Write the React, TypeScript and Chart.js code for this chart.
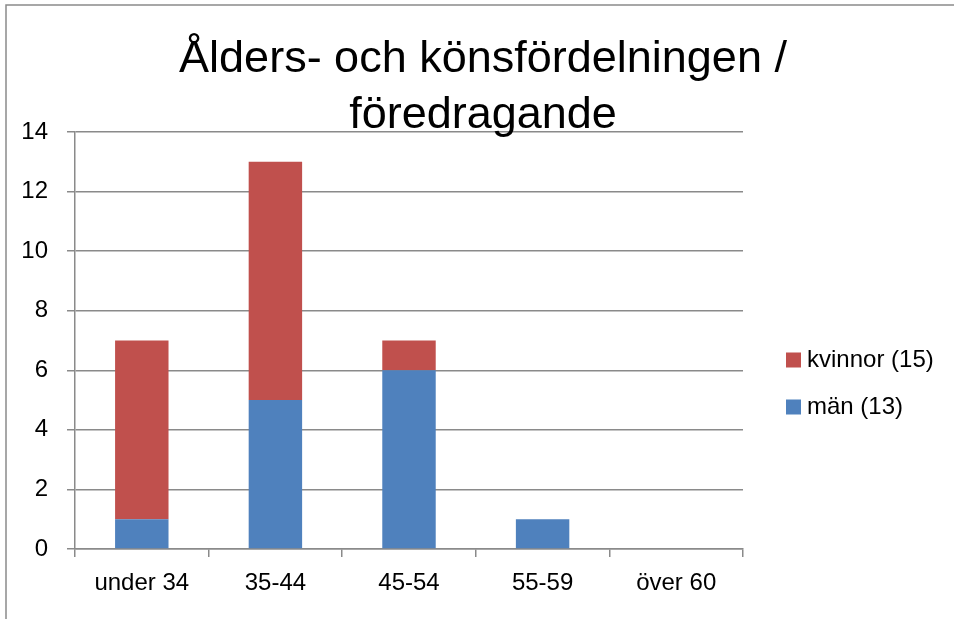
import React, { useEffect, useRef } from 'react';
import { Chart, registerables } from 'chart.js';
Chart.register(...registerables);

const categories = ['under 34', '35-44', '45-54', '55-59', 'över 60'];
const manValues = [1, 5, 6, 1, 0];
const kvinnorValues = [6, 8, 1, 0, 0];
const seriesLabels = ['män (13)', 'kvinnor (15)'];
const seriesColors = ['#4F81BD', '#C0504D'];
const titleLines = ['Ålders- och könsfördelningen /', 'föredragande'];
const yMin = 0;
const yMax = 14;
const yStep = 2;

const FONT = '"Liberation Sans", Arial, sans-serif';
const GRID = '#8a8a8a';

export default function App() {
  const ref = useRef<HTMLCanvasElement>(null);
  useEffect(() => {
    const frame = {
      id: 'frame',
      beforeDraw(chart: any) {
        const ctx = chart.ctx;
        ctx.save();
        ctx.fillStyle = '#fff';
        ctx.fillRect(0, 0, chart.width, chart.height);
        ctx.strokeStyle = GRID;
        ctx.lineWidth = 1.5;
        ctx.strokeRect(6, 5, chart.width + 20, chart.height + 20);
        ctx.restore();
      },
    };
    const titlePlugin = {
      id: 'twoLineTitle',
      afterDraw(chart: any) {
        const ctx = chart.ctx;
        ctx.save();
        ctx.fillStyle = '#000';
        ctx.font = `45px ${FONT}`;
        ctx.textAlign = 'center';
        ctx.textBaseline = 'alphabetic';
        const cx = chart.width / 2 + 6;
        titleLines.forEach((line, i) => ctx.fillText(line, cx, 72 + i * 56));
        ctx.restore();
      },
    };
    const legendPlugin = {
      id: 'sideLegend',
      afterDraw(chart: any) {
        const ctx = chart.ctx;
        ctx.save();
        ctx.font = `24px ${FONT}`;
        ctx.textBaseline = 'middle';
        ctx.textAlign = 'left';
        const ds = chart.data.datasets.slice().reverse();
        const x = chart.chartArea.right + 43;
        ds.forEach((d: any, i: number) => {
          const y = 360 + i * 47;
          ctx.fillStyle = d.backgroundColor;
          ctx.fillRect(x, y - 7.5, 15, 15);
          ctx.fillStyle = '#000';
          ctx.fillText(d.label, x + 21, y);
        });
        ctx.restore();
      },
    };
    const chart = new Chart(ref.current as HTMLCanvasElement, {
      type: 'bar',
      data: {
        labels: categories,
        datasets: [
          { label: seriesLabels[0], data: manValues, backgroundColor: seriesColors[0], barPercentage: 0.4, categoryPercentage: 1 },
          { label: seriesLabels[1], data: kvinnorValues, backgroundColor: seriesColors[1], barPercentage: 0.4, categoryPercentage: 1 },
        ],
      },
      options: {
        animation: false,
        responsive: false,
        maintainAspectRatio: false,
        layout: { padding: { left: 0, top: 132, right: 211, bottom: 0 } },
        plugins: { legend: { display: false }, title: { display: false }, tooltip: { enabled: false } },
        scales: {
          x: {
            stacked: true,
            grid: { display: true, drawOnChartArea: false, drawTicks: true, tickLength: 8, color: GRID, lineWidth: 1.5, offset: true },
            border: { color: GRID, width: 1.5 },
            ticks: { color: '#000', font: { family: FONT, size: 24 }, padding: 12 },
            afterFit(s: any) { s.height = 70; },
          },
          y: {
            stacked: true,
            min: yMin,
            max: yMax,
            ticks: { stepSize: yStep, color: '#000', font: { family: FONT, size: 24 }, padding: 19 },
            grid: { color: GRID, lineWidth: 1.5, tickLength: 8 },
            border: { color: GRID, width: 1.5 },
            afterFit(s: any) { s.width = 75; },
          },
        },
      },
      plugins: [frame, titlePlugin, legendPlugin],
    });
    return () => chart.destroy();
  }, []);
  return (
    <div style={{ position: 'fixed', left: 0, top: 0, width: 954, height: 619 }}>
      <canvas ref={ref} width={954} height={619} style={{ display: 'block' }} />
    </div>
  );
}
